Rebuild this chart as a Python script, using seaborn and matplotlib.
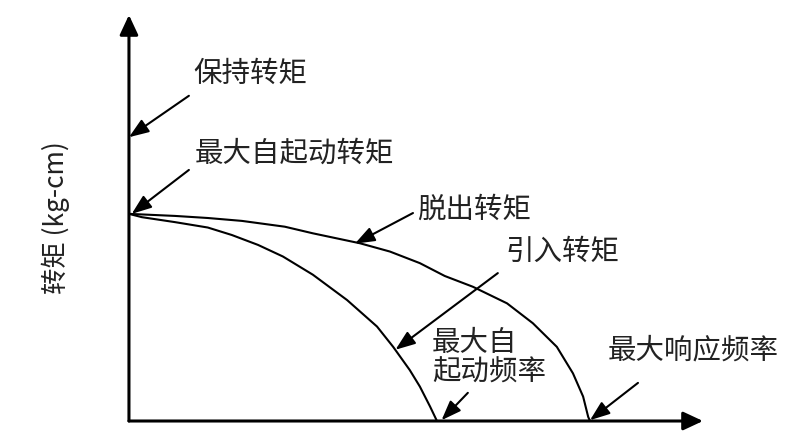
import matplotlib
matplotlib.use('Agg')
import matplotlib.pyplot as plt
import seaborn as sns

# torque-frequency characteristic of a stepper motor (schematic)
pullout_freq = [0, 100, 171, 245, 338, 399, 501, 566, 631, 685, 746, 820,
                876, 928, 963, 985, 996, 1000]
pullout_torque = [5.00, 4.95, 4.90, 4.83, 4.69, 4.53, 4.29, 4.09, 3.81, 3.50,
                  3.24, 2.84, 2.36, 1.79, 1.15, 0.59, 0.10, 0.0]

pullin_freq = [0, 28, 100, 171, 223, 280, 334, 399, 473, 538, 573, 609, 631, 653, 668]
pullin_torque = [5.00, 4.92, 4.80, 4.67, 4.49, 4.25, 3.97, 3.53, 2.92, 2.28,
                 1.79, 1.23, 0.83, 0.35, 0.0]

holding_torque = 6.85
max_start_torque = 5.0
max_start_freq = 668
max_response_freq = 1000

x_max = 1245
y_max = 9.8

sns.set_theme(style='white')
plt.rcParams['font.family'] = ['Noto Sans CJK SC', 'DejaVu Sans']

fig = plt.figure(figsize=(8.06, 4.36), dpi=100)
ax = fig.add_axes([0.16, 0.0344, 0.7122, 0.9312])

sns.lineplot(x=pullout_freq, y=pullout_torque, sort=False, estimator=None,
             color='black', lw=1.5, ax=ax)
sns.lineplot(x=pullin_freq, y=pullin_torque, sort=False, estimator=None,
             color='black', lw=1.5, ax=ax)

ax.set_xlim(0, x_max)
ax.set_ylim(0, y_max)
sns.despine(ax=ax, left=True, bottom=True)
ax.set_xticks([])
ax.set_yticks([max_start_torque])
ax.tick_params(axis='y', length=3, width=1.5, color='black', labelleft=False)

# axes drawn as arrows
axis_arrow = dict(arrowstyle='-|>,head_length=0.6,head_width=0.28', color='black',
                  lw=2.2, mutation_scale=20, shrinkA=0, shrinkB=0)
ax.annotate('', xy=(0, 1), xytext=(0, 0), xycoords='axes fraction',
            arrowprops=axis_arrow, annotation_clip=False)
ax.annotate('', xy=(1, 0), xytext=(0, 0), xycoords='axes fraction',
            arrowprops=axis_arrow, annotation_clip=False)

ax.set_ylabel('转矩 (kg-cm)', fontsize=19, color='#222222')
ax.yaxis.set_label_coords(-0.103, 0.5)

# callouts: (text, text pos, arrow tail, arrow tip)
ptr = dict(arrowstyle='-|>,head_length=0.8,head_width=0.3', color='black',
           lw=1.5, mutation_scale=15, shrinkA=0, shrinkB=0)
callouts = [
    ('保持转矩', (139, 8.38), (130, 7.85), (0, holding_torque)),
    ('最大自起动转矩', (143, 6.45), (130, 6.06), (6, max_start_torque)),
    ('脱出转矩', (624, 5.10), (616, 5.02), (490, 4.28)),
    ('引入转矩', (816, 4.08), (800, 3.57), (578, 1.72)),
    ('最大自\n起动频率', (657, 1.52), (735, 0.68), (max_start_freq + 10, 0.02)),
    ('最大响应频率', (1039, 1.71), (1104, 0.92), (max_response_freq, 0.02)),
]
for label, pos, tail, tip in callouts:
    ax.text(pos[0], pos[1], label, fontsize=20.5, color='#222222',
            ha='left', va='center', linespacing=1.0)
    ax.annotate('', xy=tip, xytext=tail, arrowprops=ptr, annotation_clip=False)

fig.savefig('out.png', dpi=100, facecolor='white')
